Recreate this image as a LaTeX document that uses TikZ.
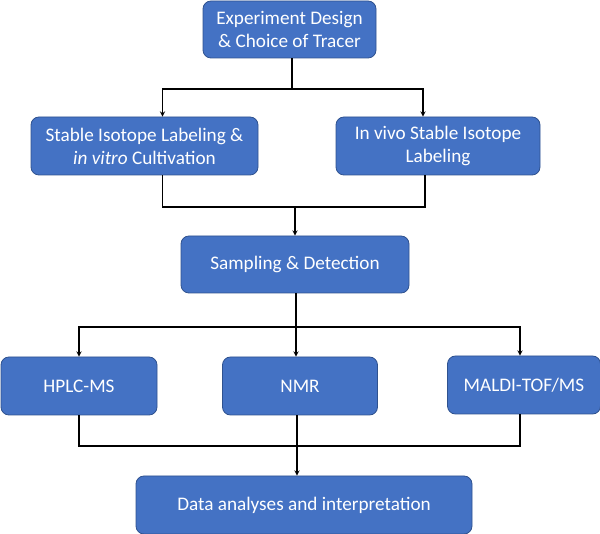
\documentclass[tikz,border=0pt]{standalone}
\usepackage{fontspec}
\setmainfont{Carlito}
\usepackage{xcolor}
\usetikzlibrary{arrows,positioning,calc}

\definecolor{boxblue}{HTML}{4472C4}
\definecolor{boxedge}{HTML}{2F528F}

\tikzset{
  stage/.style={draw=boxedge, line width=0.8pt, fill=boxblue, rounded corners=8pt,
    text=white, align=center, font=\fontsize{19.2}{23}\selectfont},
  link/.style={line width=1.3pt, >=stealth}
}

\begin{document}
\begin{tikzpicture}[x=1pt, y=-1pt]
\useasboundingbox (0,0) rectangle (600,534);

% Design
\node[stage, minimum width=173pt, minimum height=57pt] (design) at (289.5,29.5) {Experiment Design\\ \& Choice of Tracer};

% Labeling
\node[stage, minimum width=227pt, minimum height=58pt] (vitro) at (144.5,146) {Stable Isotope Labeling \&\\ \textit{in vitro} Cultivation};
\node[stage, minimum width=204pt, minimum height=58pt] (vivo) at (438,146) {In vivo Stable Isotope\\ Labeling};
\coordinate (fork1) at (292,89);
\coordinate (join1) at (295,207);
\draw[link] (design.south -| fork1) -- (fork1);
\draw[link, ->] (fork1) -| ([xshift=18pt]vitro.north);
\draw[link, ->] (fork1) -| ([xshift=-15pt]vivo.north);
\draw[link] ([xshift=18pt]vitro.south) |- (join1) -| ([xshift=-13pt]vivo.south);

% Sampling
\node[stage, minimum width=228pt, minimum height=57pt] (sampling) at (295,264.5) {Sampling \& Detection};
\draw[link, ->] (join1) -- (sampling.north);

% Detection methods
\node[stage, minimum width=156pt, minimum height=58pt] (hplc) at (79,386) {HPLC-MS};
\node[stage, minimum width=155pt, minimum height=58pt] (nmr) at (300,386) {NMR};
\node[stage, minimum width=153pt, minimum height=58pt] (maldi) at (524,385) {MALDI-TOF/MS};
\coordinate (fork2) at (296,327);
\coordinate (join2) at (297,446);
\draw[link, ->] (sampling.south -| fork2) -- (fork2 |- nmr.north);
\draw[link, ->] (fork2) -| (hplc.north);
\draw[link, ->] (fork2) -| ([xshift=-4pt]maldi.north);
\draw[link] (hplc.south) |- (join2) -| ([xshift=-4pt]maldi.south);
\draw[link] (nmr.south -| join2) -- (join2);

% Analysis
\node[stage, minimum width=336pt, minimum height=58pt] (data) at (304,505) {Data analyses and interpretation};
\draw[link, ->] (join2) -- (join2 |- data.north);
\end{tikzpicture}
\end{document}
